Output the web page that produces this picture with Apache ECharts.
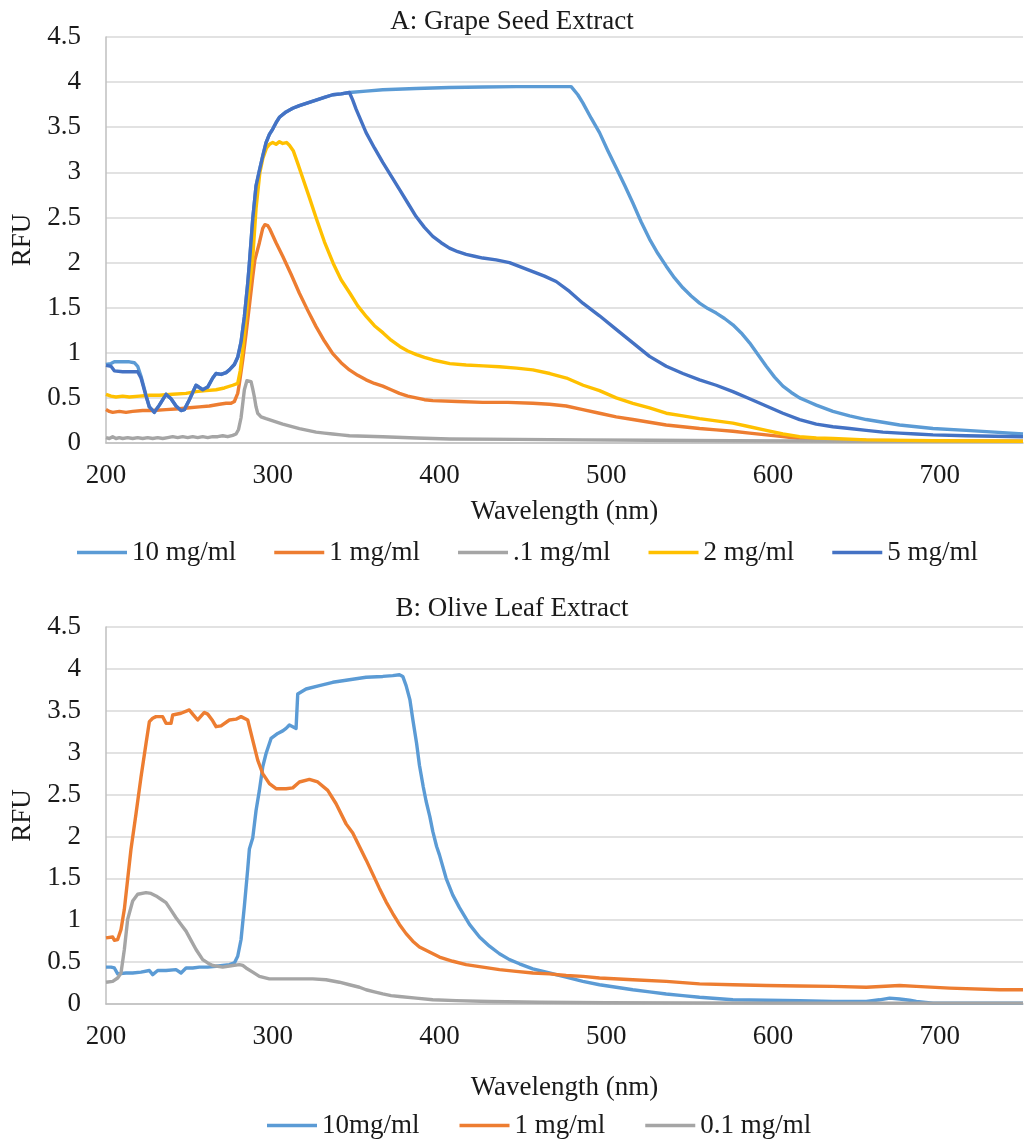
<!DOCTYPE html>
<html>
<head>
<meta charset="utf-8">
<title>Fluorescence spectra</title>
<script src="https://cdn.jsdelivr.net/npm/echarts@6/dist/echarts.min.js"></script>
<style>
  html, body { margin: 0; padding: 0; background: #fff; }
  #chartA { position: absolute; left: 0; top: 0; width: 1024px; height: 572px; }
  #chartB { position: absolute; left: 0; top: 572px; width: 1024px; height: 571px; }
</style>
</head>
<body>
<div id="chartA"></div>
<div id="chartB"></div>
<script>
// Shared axis settings
const xMin = 200, xMax = 750, xStep = 100;
const yMin = 0, yMax = 4.5, yStep = 0.5;

// ---- A: Grape Seed Extract, [wavelength nm, RFU] ----
const gsNames = ['10 mg/ml', '1 mg/ml', '.1 mg/ml', '2 mg/ml', '5 mg/ml'];

const gs10 = [[200,0.87],[203,0.88],[205,0.90],[210,0.90],[214,0.90],[217,0.89],[219,0.85],[221,0.74],[224,0.53],[226,0.40],
  [229,0.34],[232,0.42],[236,0.54],[239,0.49],[242,0.41],[245,0.36],[247,0.37],[250,0.48],[254,0.64],[258,0.59],[261,0.62],
  [264,0.72],[266,0.77],[269,0.76],[272,0.78],[274,0.81],[277,0.87],[279,0.95],[281,1.12],[283,1.4],[285,1.77],[286,1.99],
  [288,2.48],[290,2.85],[292,3.02],[294,3.18],[296,3.33],[298,3.42],[300,3.48],[302,3.55],[304,3.61],[308,3.67],[312,3.71],
  [316,3.74],[321,3.77],[326,3.80],[331,3.83],[336,3.86],[341,3.87],[346,3.885],[356,3.90],[366,3.915],[386,3.93],[406,3.94],
  [426,3.945],[446,3.95],[479,3.95],[483,3.86],[486,3.77],[491,3.60],[496,3.44],[501,3.24],[506,3.05],[511,2.86],[516,2.66],
  [521,2.45],[526,2.26],[531,2.10],[536,1.96],[541,1.83],[546,1.72],[551,1.63],[556,1.55],[561,1.49],[566,1.44],[571,1.38],
  [576,1.31],[581,1.22],[586,1.11],[591,0.98],[596,0.85],[601,0.73],[606,0.63],[611,0.56],[616,0.50],[621,0.46],[626,0.42],
  [636,0.35],[646,0.30],[656,0.26],[666,0.23],[676,0.20],[686,0.18],[696,0.16],[716,0.14],[733,0.12],[750,0.10]];

const gs1 = [[200,0.37],[202,0.35],[204,0.34],[208,0.35],[212,0.34],[216,0.35],[222,0.36],[228,0.36],[236,0.37],[244,0.38],
  [250,0.39],[256,0.40],[262,0.41],[268,0.43],[272,0.44],[275,0.44],[277,0.46],[279,0.55],[280,0.66],[282,0.92],[284,1.21],
  [286,1.52],[288,1.84],[289.3,2.03],[292,2.22],[294,2.38],[295.3,2.42],[297,2.41],[298.3,2.37],[302,2.22],[306,2.07],
  [311,1.87],[316,1.66],[321,1.47],[326,1.29],[331,1.13],[336,0.99],[341,0.89],[346,0.81],[351,0.75],[356,0.70],[361,0.66],
  [366,0.63],[371,0.59],[376,0.55],[381,0.52],[386,0.50],[391,0.48],[396,0.47],[411,0.46],[426,0.45],[441,0.45],[456,0.44],
  [466,0.43],[476,0.41],[486,0.37],[496,0.33],[506,0.29],[516,0.26],[526,0.23],[536,0.20],[546,0.18],[556,0.16],[566,0.145],
  [576,0.13],[586,0.11],[596,0.09],[606,0.07],[616,0.05],[626,0.04],[636,0.033],[676,0.025],[750,0.02]];

const gs01 = [[200,0.06],[202,0.05],[204,0.07],[206,0.05],[208,0.06],[210,0.05],[213,0.06],[216,0.05],[219,0.06],[222,0.05],
  [225,0.06],[228,0.05],[231,0.06],[234,0.05],[237,0.06],[240,0.07],[243,0.06],[246,0.07],[249,0.06],[252,0.07],[255,0.06],
  [258,0.07],[261,0.06],[264,0.07],[267,0.07],[270,0.08],[273,0.07],[276,0.085],[278,0.10],[279.5,0.15],[281,0.28],[283,0.59],
  [284.5,0.69],[285.5,0.71],[287,0.68],[288,0.60],[289,0.51],[290,0.40],[291,0.33],[293,0.29],[296,0.27],[301,0.24],[306,0.21],
  [311,0.185],[316,0.16],[321,0.14],[326,0.12],[331,0.11],[336,0.10],[341,0.09],[346,0.08],[356,0.075],[366,0.07],[386,0.055],
  [406,0.045],[446,0.04],[486,0.035],[526,0.03],[576,0.025],[650,0.02],[750,0.02]];

const gs2 = [[200,0.54],[203,0.52],[206,0.51],[210,0.52],[214,0.51],[220,0.52],[226,0.53],[232,0.53],[240,0.54],[248,0.55],
  [254,0.57],[260,0.58],[266,0.59],[271,0.61],[276,0.64],[279,0.66],[280.5,0.8],[282,1.03],[285,1.58],[288,2.05],[290,2.60],
  [292.3,3.0],[294,3.15],[296.3,3.27],[298,3.31],[300,3.33],[302,3.31],[304,3.34],[306,3.32],[308.3,3.33],[310,3.30],
  [312.3,3.24],[315,3.10],[318.3,2.92],[322,2.72],[326.3,2.48],[331,2.23],[336.3,1.99],[341,1.81],[346.3,1.66],[351,1.52],
  [356.2,1.40],[361,1.30],[366.2,1.22],[371,1.14],[376.2,1.07],[381,1.02],[386.2,0.98],[391,0.95],[396.2,0.92],[406.2,0.88],
  [416,0.865],[426.2,0.855],[436,0.845],[446.2,0.83],[456,0.81],[466.2,0.77],[476.2,0.72],[486.2,0.64],[496,0.58],[506,0.50],
  [516,0.44],[526,0.39],[536,0.33],[546,0.30],[556,0.27],[566,0.245],[576,0.22],[586,0.18],[596,0.14],[606,0.10],[616,0.07],
  [626,0.055],[636,0.05],[656,0.035],[696,0.025],[750,0.02]];

const gs5 = [[200,0.86],[203,0.85],[205,0.80],[210,0.79],[215,0.79],[219,0.79],[221,0.72],[224,0.52],[226,0.40],[229,0.34],
  [232,0.42],[236,0.54],[239,0.49],[242,0.41],[245,0.36],[247,0.37],[250,0.48],[254,0.64],[258,0.59],[261,0.62],[264,0.72],
  [266,0.77],[269,0.76],[272,0.78],[274,0.81],[277,0.87],[279,0.95],[281,1.12],[283,1.4],[285,1.77],[286,1.99],[288,2.48],
  [290,2.85],[292,3.02],[294,3.18],[296,3.33],[298,3.42],[300,3.48],[302,3.55],[304,3.61],[308,3.67],[312,3.71],[316,3.74],
  [321,3.77],[326,3.80],[331,3.83],[336,3.86],[341,3.87],[346,3.885],[348,3.80],[350,3.70],[353,3.57],[356,3.44],[361,3.27],
  [366,3.11],[371,2.96],[376,2.81],[381,2.66],[386,2.51],[391,2.39],[396,2.29],[401,2.22],[406,2.16],[411,2.12],[416,2.09],
  [421,2.07],[426,2.05],[434,2.03],[442,2.0],[449,1.95],[456,1.90],[463,1.85],[470,1.79],[478,1.68],[486,1.55],[496,1.41],
  [506,1.26],[516,1.11],[526,0.96],[536,0.85],[546,0.77],[556,0.70],[566,0.64],[576,0.57],[586,0.49],[596,0.41],[606,0.33],
  [616,0.26],[626,0.21],[636,0.18],[646,0.16],[656,0.14],[666,0.12],[676,0.11],[686,0.10],[696,0.09],[716,0.08],[750,0.07]];

// ---- B: Olive Leaf Extract, [wavelength nm, RFU] ----
const olNames = ['10mg/ml', '1 mg/ml', '0.1 mg/ml'];

const ol10 = [[200,0.44],[203,0.44],[205,0.43],[207,0.36],[212,0.37],[216,0.37],[221,0.38],[226,0.40],[228,0.35],[231,0.40],
  [236,0.40],[242,0.41],[245,0.37],[248,0.43],[252,0.43],[256,0.44],[261,0.44],[266,0.45],[270,0.46],[274,0.47],[277,0.49],
  [279,0.57],[281,0.77],[283,1.17],[285,1.61],[286,1.85],[288,1.98],[290,2.31],[292,2.55],[294,2.83],[296,2.99],[299,3.17],
  [303,3.23],[306,3.26],[308,3.29],[310,3.33],[312,3.31],[314,3.29],[315,3.70],[320,3.76],[328,3.80],[336,3.84],[346,3.87],
  [356,3.90],[366,3.91],[372,3.92],[376,3.93],[378,3.91],[380,3.80],[382.3,3.63],[384,3.40],[386.3,3.11],[388,2.85],
  [390.3,2.59],[392,2.42],[394.2,2.24],[396,2.06],[398.3,1.88],[400,1.78],[404,1.50],[408,1.30],[412,1.15],[418,0.95],
  [424,0.80],[430,0.69],[436,0.60],[442,0.53],[448,0.48],[456,0.42],[466,0.37],[476,0.32],[486,0.27],[496,0.23],[506,0.20],
  [516,0.17],[526,0.145],[536,0.12],[546,0.10],[556,0.08],[566,0.065],[576,0.05],[596,0.045],[616,0.04],[636,0.03],[656,0.03],
  [664,0.05],[670,0.07],[676,0.06],[682,0.045],[686,0.03],[696,0.01],[720,0.01],[750,0.01]];

const ol1 = [[200,0.79],[204,0.80],[205,0.76],[207,0.77],[209,0.89],[211,1.13],[213,1.49],[215,1.85],[216,1.87],[218,2.27],
  [221,2.71],[224,3.11],[226,3.37],[228,3.41],[230,3.43],[234,3.43],[236,3.35],[239,3.35],[240,3.45],[245,3.47],[250,3.51],
  [252,3.46],[255,3.39],[259,3.48],[261,3.46],[264,3.38],[266,3.31],[269,3.32],[274,3.39],[278,3.40],[281,3.43],[285,3.39],
  [288,3.15],[291,2.91],[294,2.75],[298,2.63],[302,2.57],[308,2.57],[312,2.58],[313,2.59],[316,2.65],[322,2.68],[327,2.65],
  [333,2.55],[338,2.39],[344,2.15],[348,2.04],[352,1.88],[356,1.72],[360,1.55],[364,1.38],[368,1.22],[372,1.08],[376,0.95],
  [380,0.84],[384,0.75],[388,0.68],[394,0.62],[400,0.56],[408,0.51],[416,0.47],[426,0.44],[436,0.41],[446,0.39],[456,0.37],
  [466,0.36],[476,0.34],[486,0.33],[496,0.31],[516,0.29],[536,0.27],[556,0.24],[576,0.23],[596,0.22],[616,0.215],[636,0.21],
  [656,0.20],[676,0.22],[686,0.21],[706,0.19],[736,0.17],[750,0.17]];

const ol01 = [[200,0.26],[204,0.27],[207,0.31],[209,0.37],[211,0.65],[213,1.01],[216,1.23],[219,1.31],[224,1.33],[227,1.32],
  [230,1.29],[233,1.25],[236,1.21],[239,1.12],[242,1.03],[245,0.95],[248,0.87],[251,0.76],[254,0.65],[258,0.53],[261,0.49],
  [264,0.46],[270,0.44],[276,0.46],[280,0.47],[282,0.46],[284,0.43],[288,0.38],[292,0.33],[298,0.30],[306,0.30],[316,0.30],
  [324,0.30],[332,0.29],[340,0.26],[346,0.23],[352,0.20],[356,0.17],[361,0.145],[366,0.12],[371,0.10],[376,0.09],[386,0.07],
  [396,0.05],[410,0.04],[430,0.03],[460,0.02],[500,0.015],[600,0.01],[750,0.01]];

const FONT = '"Liberation Serif", "Times New Roman", serif';
const TXT = '#1a1a1a';
const FS = 27;

function buildOption(cfg) {
  return {
    animation: false,
    backgroundColor: '#ffffff',
    title: {
      text: cfg.title, left: 'center', top: cfg.titleTop,
      textStyle: { fontFamily: FONT, fontSize: FS, fontWeight: 'normal', color: TXT }
    },
    legend: {
      data: cfg.names, top: cfg.legendTop, left: cfg.legendLeft,
      icon: 'rect', itemWidth: 50, itemHeight: 3.5, itemGap: cfg.legendGap,
      textStyle: { fontFamily: FONT, fontSize: FS, color: TXT }
    },
    grid: { left: 106, top: cfg.gridTop, width: 917, height: cfg.gridHeight },
    xAxis: {
      type: 'value', min: xMin, max: xMax, interval: xStep,
      name: 'Wavelength (nm)', nameLocation: 'middle', nameGap: cfg.xNameGap,
      nameTextStyle: { fontFamily: FONT, fontSize: FS, color: TXT },
      axisLine: { show: true, lineStyle: { color: '#BFBFBF', width: 1.5 } },
      axisTick: { show: false },
      splitLine: { show: false },
      axisLabel: { showMaxLabel: false, margin: cfg.xLabelMargin, fontFamily: FONT, fontSize: FS, color: TXT }
    },
    yAxis: {
      type: 'value', min: yMin, max: yMax, interval: yStep,
      name: 'RFU', nameLocation: 'middle', nameGap: 60, nameRotate: 90,
      nameTextStyle: { fontFamily: FONT, fontSize: FS, color: TXT },
      axisLine: { show: true, lineStyle: { color: '#BFBFBF', width: 1.5 } },
      axisTick: { show: false },
      splitLine: { show: true, lineStyle: { color: '#D9D9D9', width: 1.5 } },
      axisLabel: { margin: 25, fontFamily: FONT, fontSize: FS, color: TXT }
    },
    series: cfg.series.map(s => ({
      name: s.name, type: 'line', data: s.data, color: s.color,
      showSymbol: false, symbol: 'none', smooth: false,
      lineStyle: { width: 3.4, color: s.color, join: 'round' }
    }))
  };
}

const chartA = echarts.init(document.getElementById('chartA'), null, { renderer: 'canvas' });
chartA.setOption(buildOption({
  title: 'A: Grape Seed Extract', titleTop: 3,
  names: gsNames, legendTop: 534, legendLeft: 72, legendGap: 38,
  gridTop: 37, gridHeight: 406, xNameGap: 55, xLabelMargin: 19,
  series: [
    { name: gsNames[0], data: gs10, color: '#5B9BD5' },
    { name: gsNames[1], data: gs1, color: '#ED7D31' },
    { name: gsNames[2], data: gs01, color: '#A5A5A5' },
    { name: gsNames[3], data: gs2, color: '#FFC000' },
    { name: gsNames[4], data: gs5, color: '#4472C4' }
  ]
}));

const chartB = echarts.init(document.getElementById('chartB'), null, { renderer: 'canvas' });
chartB.setOption(buildOption({
  title: 'B: Olive Leaf Extract', titleTop: 18,
  names: olNames, legendTop: 535, legendLeft: 262, legendGap: 40,
  gridTop: 55, gridHeight: 377, xNameGap: 70, xLabelMargin: 19,
  series: [
    { name: olNames[0], data: ol10, color: '#5B9BD5' },
    { name: olNames[1], data: ol1, color: '#ED7D31' },
    { name: olNames[2], data: ol01, color: '#A5A5A5' }
  ]
}));
</script>
</body>
</html>
